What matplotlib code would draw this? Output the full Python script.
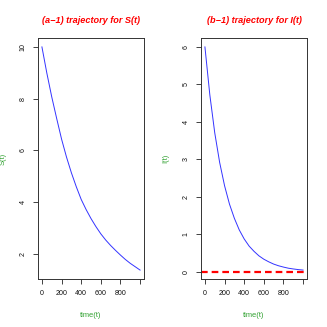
import matplotlib
matplotlib.use("Agg")
import matplotlib.pyplot as plt

plt.rcParams['font.family'] = ['Liberation Sans', 'DejaVu Sans']

time_t = [0, 50, 100, 150, 200, 250, 300, 350, 400, 450, 500,
          550, 600, 650, 700, 750, 800, 850, 900, 950, 1000]
S_vals = [10.0, 8.99, 8.07, 7.24, 6.44, 5.75, 5.14, 4.60, 4.11, 3.72, 3.37,
          3.06, 2.78, 2.54, 2.33, 2.14, 1.96, 1.79, 1.64, 1.51, 1.38]
I_vals = [6.00, 4.72, 3.71, 2.92, 2.30, 1.81, 1.43, 1.12, 0.88, 0.69, 0.55,
          0.43, 0.34, 0.27, 0.21, 0.165, 0.13, 0.10, 0.08, 0.063, 0.05]

x_ticks = [0, 200, 400, 600, 800, 1000]
x_ticklabels = ['0', '200', '400', '600', '800', '']
S_ticks = [2, 4, 6, 8, 10]
I_ticks = [0, 1, 2, 3, 4, 5, 6]
titles = ['(a\u22121) trajectory for S(t)', '(b\u22121) trajectory for I(t)']
ylabels = ['S(t)', 'I(t)']
xlabel = 'time(t)'
ref_level = 0

W = H = 327
fig = plt.figure(figsize=(3.27, 3.27), dpi=100)

def frac(l, r, t, b):
    return [l / W, 1 - b / H, (r - l) / W, (b - t) / H]

ax1 = fig.add_axes(frac(38, 144, 38, 279))
ax2 = fig.add_axes(frac(201, 307, 38, 279))

green = '#2ea02e'
fs_tick = 5.1
fs_lab = 5.4
fs_title = 6.6

def style(ax, yvals, yticks, title, ylab):
    ax.plot(time_t, yvals, color='#3333ff', lw=0.7)
    lo, hi = min(yvals), max(yvals)
    pad = (hi - lo) * 0.04
    ax.set_ylim(lo - pad, hi + pad)
    ax.set_xlim(-40, 1040)
    ax.set_xticks(x_ticks)
    ax.set_xticklabels(x_ticklabels)
    ax.set_yticks(yticks)
    ax.set_yticklabels([str(v) for v in yticks], rotation=90, va='center')
    ax.tick_params(axis='both', length=3.6, width=0.6, labelsize=fs_tick,
                   color='#222222', labelcolor='#111111')
    ax.tick_params(axis='x', pad=4.0)
    ax.tick_params(axis='y', pad=4.5)
    for sp in ax.spines.values():
        sp.set_linewidth(0.7)
        sp.set_color('#333333')
    ax.set_xlabel(xlabel, color=green, fontsize=fs_lab)
    ax.set_ylabel(ylab, color=green, fontsize=fs_lab)
    ax.xaxis.set_label_coords(0.5, -0.136)
    ax.yaxis.set_label_coords(-0.295, 0.5)
    ax.text(0.5, 1.072, title, transform=ax.transAxes, ha='center', va='center',
            color='red', fontsize=fs_title, fontweight='bold', fontstyle='italic')

style(ax1, S_vals, S_ticks, titles[0], ylabels[0])
style(ax2, I_vals, I_ticks, titles[1], ylabels[1])
ax2.axhline(ref_level, color='red', lw=1.6, dashes=(3, 1.8))

fig.savefig('out.png', dpi=100)
